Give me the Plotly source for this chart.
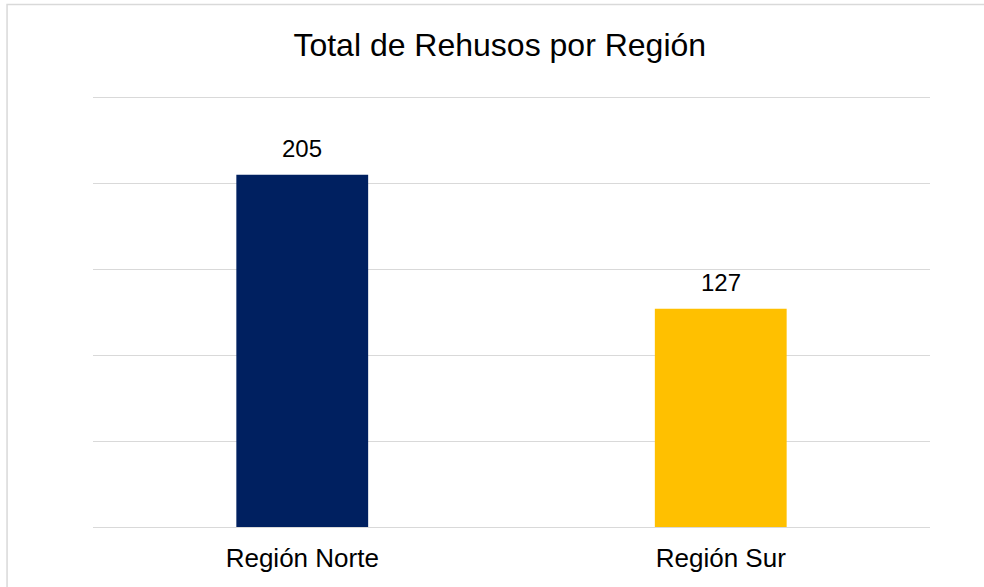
import plotly.graph_objects as go

categories = ["Región Norte", "Región Sur"]
values = [205, 127]
colors = ["#002060", "#FFC000"]
title_text = "Total de Rehusos por Región"
y_max = 252
y_step = 50

FONT = "Liberation Sans, Arial, sans-serif"
FW, FH = 984, 587

fig = go.Figure()
fig.add_trace(go.Bar(
    x=categories, y=values,
    marker=dict(color=colors, line=dict(width=0)),
    hoverinfo="skip",
))

for c, v in zip(categories, values):
    fig.add_annotation(
        x=c, y=v, xref="x", yref="y",
        text=str(v), showarrow=False,
        yanchor="bottom", yshift=11,
        font=dict(family=FONT, size=24, color="#000000"),
    )

px_per_unit = 1.72
L, R, B = 93, 53.5, 60
H = y_max * px_per_unit
T = FH - B - H
W = FW - L - R

fig.add_shape(
    type="rect", xref="paper", yref="paper",
    x0=(7 - L) / W, x1=1.3, y0=-0.4, y1=1 + (T - 4) / H,
    line=dict(color="#d9d9d9", width=1.5), fillcolor="rgba(0,0,0,0)",
    layer="below",
)

fig.update_layout(
    width=FW, height=FH,
    margin=dict(l=L, r=R, t=T, b=B),
    paper_bgcolor="white", plot_bgcolor="white",
    bargap=0.685,
    showlegend=False,
    title=dict(
        text=title_text, x=(500 - L) / W, xref="paper", xanchor="center",
        y=1 - 45 / FH, yanchor="middle",
        font=dict(family=FONT, size=32, color="#000000"),
    ),
    font=dict(family=FONT, size=24, color="#000000"),
    xaxis=dict(
        showgrid=False, showline=False, zeroline=False, ticks="",
        tickfont=dict(family=FONT, size=26, color="#000000"),
        ticklabelstandoff=13,
    ),
    yaxis=dict(
        range=[0, y_max], dtick=y_step, showgrid=True, gridcolor="#d9d9d9",
        gridwidth=1.3, showticklabels=False, zeroline=True,
        zerolinecolor="#d9d9d9", zerolinewidth=1.3, showline=False, ticks="",
    ),
)

fig.write_html(
    "out.html",
    config={"displayModeBar": False},
    post_script="document.body.style.margin='0';",
)
